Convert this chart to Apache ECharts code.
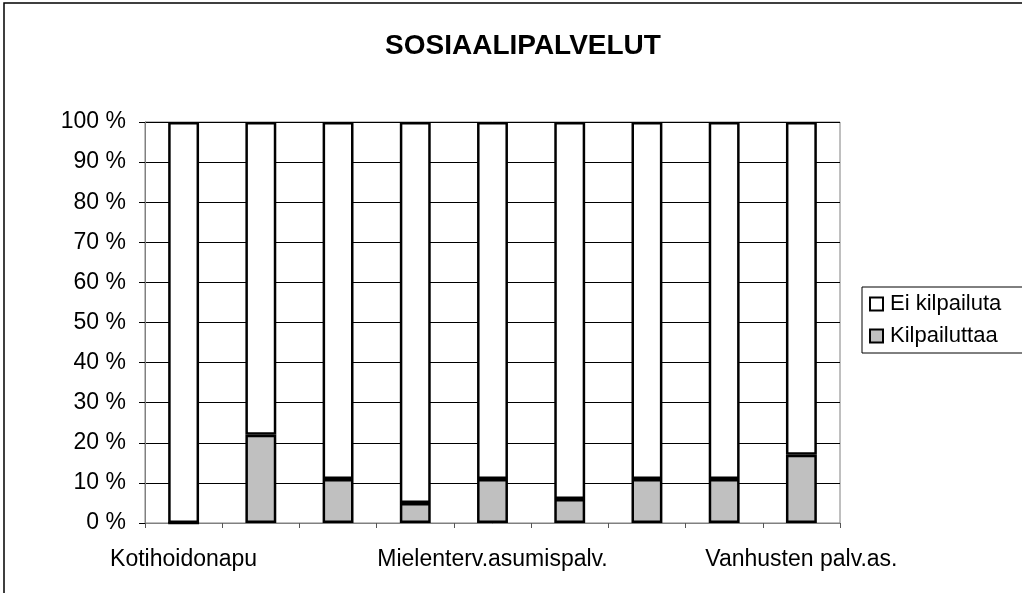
<!DOCTYPE html>
<html>
<head>
<meta charset="utf-8">
<script src="https://cdn.jsdelivr.net/npm/echarts@6/dist/echarts.min.js"></script>
<style>
  html, body { margin: 0; padding: 0; background: #fff; }
  #chart { width: 1022px; height: 593px; }
</style>
</head>
<body>
<div id="chart"></div>
<script>
  // only every fourth category name is printed in the original
  const categories = ['Kotihoidonapu', 'k2', 'k3', 'k4', 'Mielenterv.asumispalv.', 'k6', 'k7', 'k8', 'Vanhusten palv.as.'];
  const kilpailuttaa = [0, 22, 11, 5, 11, 6, 11, 11, 17];
  const eiKilpailuta = [100, 78, 89, 95, 89, 94, 89, 89, 83];
  const yTicks = [0, 10, 20, 30, 40, 50, 60, 70, 80, 90, 100];

  const font = 'Liberation Sans, Arial, sans-serif';
  const myChart = echarts.init(document.getElementById('chart'));
  myChart.setOption({
    animation: false,
    backgroundColor: '#fff',
    title: {
      text: 'SOSIAALIPALVELUT',
      left: 518, top: 27, textAlign: 'center',
      textStyle: {fontFamily: font, fontSize: 28, fontWeight: 'bold', color: '#000'}
    },
    graphic: [{
      type: 'rect',
      shape: {x: 4, y: 3, width: 1040, height: 620},
      style: {fill: 'none', stroke: '#000', lineWidth: 1.5},
      silent: true
    }],
    legend: {
      data: ['Ei kilpailuta', 'Kilpailuttaa'],
      orient: 'vertical',
      left: 862, top: 287,
      padding: [6, 60, 6, 7],
      itemGap: 10,
      itemWidth: 13, itemHeight: 13,
      borderColor: '#000', borderWidth: 1,
      icon: 'rect',
      textStyle: {fontFamily: font, fontSize: 22, color: '#000', padding: [0, 0, 0, 2]}
    },
    grid: {
      left: 145, top: 122, width: 695, height: 401,
      show: true, borderColor: '#808080', borderWidth: 1
    },
    xAxis: {
      type: 'category',
      data: categories,
      axisLine: {lineStyle: {color: '#808080', width: 1}},
      axisTick: {show: true, interval: 0, length: 5, lineStyle: {color: '#555'}},
      axisLabel: {interval: 3, margin: 25, fontFamily: font, fontSize: 23, color: '#000'}
    },
    yAxis: {
      type: 'value',
      min: 0, max: 100, interval: 10,
      axisLine: {show: true, lineStyle: {color: '#808080', width: 1}},
      axisTick: {show: true, length: 6, lineStyle: {color: '#000'}},
      splitLine: {lineStyle: {color: '#000', width: 1}},
      axisLabel: {
        margin: 19, fontFamily: font, fontSize: 23, color: '#000',
        formatter: v => (yTicks.indexOf(v) >= 0 ? v + ' %' : '')
      }
    },
    series: [
      {
        name: 'Kilpailuttaa', type: 'bar', stack: 'a', data: kilpailuttaa,
        barWidth: '40%',
        itemStyle: {color: '#c0c0c0', borderColor: '#000', borderWidth: 2.5}
      },
      {
        name: 'Ei kilpailuta', type: 'bar', stack: 'a', data: eiKilpailuta,
        barWidth: '40%',
        itemStyle: {color: '#fff', borderColor: '#000', borderWidth: 2.5}
      }
    ]
  });
</script>
</body>
</html>
